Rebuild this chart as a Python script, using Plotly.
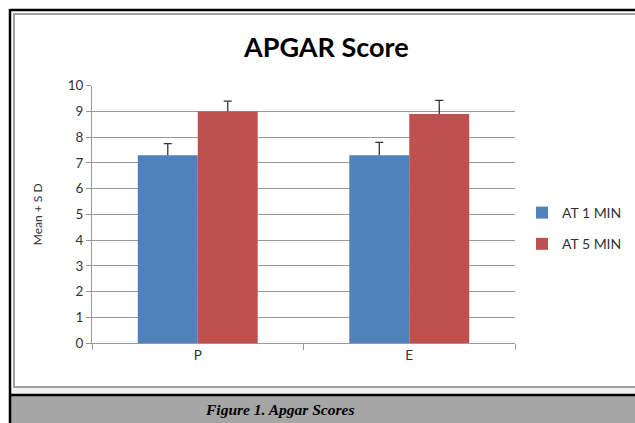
import plotly.graph_objects as go

categories = ["P", "E"]
series_names = ["AT 1 MIN", "AT 5 MIN"]
at1_mean = [7.3, 7.3]
at1_sd = [0.45, 0.5]
at5_mean = [9.0, 8.9]
at5_sd = [0.4, 0.53]
y_ticks = [0, 1, 2, 3, 4, 5, 6, 7, 8, 9, 10]
colors = ["#4f81bd", "#c0504d"]

W, H = 635, 423
def px(x):
    return x / W
def py(y):
    return 1 - y / H

ERR_COLOR = "#333333"
fig = go.Figure()
series = [(series_names[0], at1_mean, at1_sd, colors[0]),
          (series_names[1], at5_mean, at5_sd, colors[1])]
for i, (name, mean, sd, col) in enumerate(series):
    # bars + vertical whisker (no caps)
    fig.add_trace(go.Bar(
        x=categories, y=mean, name=name, legendgroup=name,
        marker=dict(color=col, line=dict(width=0)),
        error_y=dict(type="data", symmetric=False, array=sd, arrayminus=[0] * len(sd),
                     color=ERR_COLOR, thickness=1.3, width=0),
    ))
for i, (name, mean, sd, col) in enumerate(series):
    # caps only, on an overlaid twin subplot with identical geometry
    fig.add_trace(go.Bar(
        x=categories, y=mean, name=name, showlegend=False, hoverinfo="skip",
        xaxis="x2", yaxis="y2",
        marker=dict(color="rgba(0,0,0,0)", line=dict(width=0)),
        error_y=dict(type="data", symmetric=False, array=sd, arrayminus=[-v for v in sd],
                     color=ERR_COLOR, thickness=1.3, width=4),
    ))

shapes = [
    dict(type="rect", xref="paper", yref="paper", x0=px(11), x1=px(640), y0=py(388), y1=py(394),
         line=dict(width=0), fillcolor="#f2f2f2", layer="below"),
    dict(type="rect", xref="paper", yref="paper", x0=px(14), x1=px(650), y0=py(14), y1=py(387),
         line=dict(color="#a0a0a0", width=2), fillcolor="rgba(0,0,0,0)"),
    dict(type="rect", xref="paper", yref="paper", x0=px(11), x1=px(640), y0=py(396), y1=py(430),
         line=dict(width=0), fillcolor="#a6a6a6"),
    dict(type="line", xref="paper", yref="paper", x0=px(10), x1=px(640), y0=py(10), y1=py(10),
         line=dict(color="black", width=2.5)),
    dict(type="line", xref="paper", yref="paper", x0=px(10), x1=px(10), y0=py(9), y1=py(430),
         line=dict(color="black", width=2.5)),
    dict(type="line", xref="paper", yref="paper", x0=px(10), x1=px(640), y0=py(395), y1=py(395),
         line=dict(color="black", width=2.5)),
]

x_dom = [px(92), px(515)]
y_dom = [py(343), py(85.7)]

fig.update_layout(
    width=W, height=H,
    margin=dict(l=0, r=0, t=0, b=0, pad=0, autoexpand=False),
    paper_bgcolor="white", plot_bgcolor="white",
    barmode="group", bargap=0.433, bargroupgap=0,
    font=dict(family="Lato", color="#333333"),
    xaxis=dict(domain=x_dom, showgrid=False, showline=True, linecolor="#999999", linewidth=1,
               ticks="outside", tickson="boundaries", ticklen=6, tickcolor="#999999",
               tickfont=dict(size=13.5, color="#333333"), fixedrange=True, automargin=False),
    yaxis=dict(domain=y_dom, range=[0, 10], tickvals=y_ticks,
               showgrid=True, gridcolor="#999999", gridwidth=1, zeroline=False,
               showline=True, linecolor="#999999", linewidth=1,
               ticks="outside", ticklen=5, tickcolor="#999999",
               tickfont=dict(size=13.5, color="#333333"), automargin=False,
               title=dict(text="Mean + S D", font=dict(size=12, color="#333333"), standoff=22)),
    xaxis2=dict(domain=x_dom, overlaying="x", anchor="y2", visible=False, automargin=False),
    yaxis2=dict(domain=y_dom, overlaying="y", anchor="x2", range=[0, 10], visible=False, automargin=False),
    legend=dict(x=px(522), y=py(197), xanchor="left", yanchor="top",
                font=dict(size=14, color="#333333"), itemwidth=30, tracegroupgap=10,
                bgcolor="rgba(0,0,0,0)"),
    shapes=shapes,
    annotations=[
        dict(text="<b>APGAR Score</b>", xref="paper", yref="paper",
             x=px(326), y=py(46), xanchor="center", yanchor="middle", showarrow=False,
             font=dict(family="Lato", size=27, color="black")),
        dict(text="<b><i>Figure 1. Apgar Scores</i></b>", xref="paper", yref="paper",
             x=px(279), y=py(409), xanchor="center", yanchor="middle", showarrow=False,
             font=dict(family="Liberation Serif", size=15.5, color="black")),
    ],
)

fig.write_html("out.html", config={"displayModeBar": False},
               post_script="document.body.style.margin='0px';")
